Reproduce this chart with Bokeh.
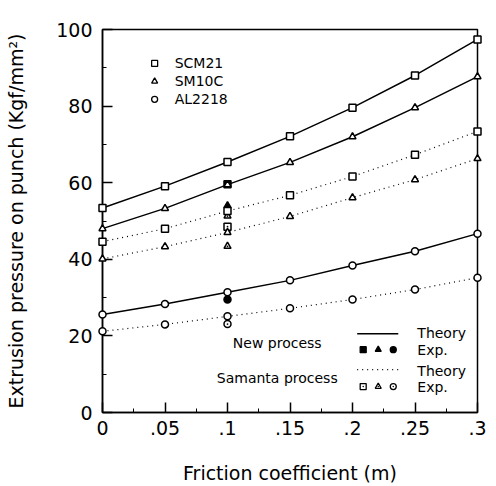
from bokeh.plotting import figure
from bokeh.models import FixedTicker, Range1d
from bokeh.core.properties import value
from bokeh.embed import file_html
from bokeh.resources import INLINE

# ---- data ----
friction = [0, 0.05, 0.1, 0.15, 0.2, 0.25, 0.3]
scm21_new = [53.4, 59.1, 65.4, 72.1, 79.6, 88.0, 97.4]
sm10c_new = [48.0, 53.3, 59.5, 65.3, 72.0, 79.6, 87.7]
al2218_new = [25.6, 28.3, 31.4, 34.5, 38.4, 42.1, 46.7]
scm21_sam = [44.6, 48.0, 52.6, 56.7, 61.6, 67.3, 73.4]
sm10c_sam = [40.1, 43.3, 47.0, 51.2, 56.1, 60.8, 66.3]
al2218_sam = [21.2, 23.0, 25.1, 27.2, 29.5, 32.1, 35.2]

exp_x = [0.1]
scm21_exp_new = [59.6]
sm10c_exp_new = [54.0]
al2218_exp_new = [29.5]
scm21_exp_sam = [48.5]
sm10c_exp_sam = [43.4, 51.3]
al2218_exp_sam = [23.1]

x_ticks = [0, 0.05, 0.1, 0.15, 0.2, 0.25, 0.3]
x_tick_labels = ["0", ".05", ".1", ".15", ".2", ".25", ".3"]
y_ticks = [0, 20, 40, 60, 80, 100]

FONT = "DejaVu Sans"

p = figure(width=488, height=486, output_backend="svg", toolbar_location=None,
           x_range=Range1d(0, 0.3), y_range=Range1d(0, 100))
p.min_border_left = 102
p.min_border_right = 11
p.min_border_top = 29
p.min_border_bottom = 73
p.grid.visible = False
p.outline_line_color = "black"
p.outline_line_width = 1.5
p.background_fill_color = "white"
p.border_fill_color = "white"

for ax in (p.xaxis[0], p.yaxis[0]):
    ax.axis_line_width = 1.5
    ax.major_tick_in = 10
    ax.major_tick_out = 0
    ax.minor_tick_in = 4
    ax.minor_tick_out = 0
    ax.major_tick_line_width = 1.5
    ax.major_label_text_font = FONT
    ax.major_label_text_font_size = "19px"
    ax.major_label_text_color = "black"
    ax.axis_label_text_font = FONT
    ax.axis_label_text_font_size = "19px"
    ax.axis_label_text_font_style = "normal"
    ax.axis_label_text_color = "black"

p.xaxis.ticker = FixedTicker(ticks=x_ticks, minor_ticks=[0.025, 0.075, 0.125, 0.175, 0.225, 0.275])
p.xaxis.major_label_overrides = {t: l for t, l in zip(x_ticks, x_tick_labels)}
p.yaxis.ticker = FixedTicker(ticks=y_ticks, minor_ticks=[10, 30, 50, 70, 90])
p.xaxis.axis_label = "Friction coefficient (m)"
p.yaxis.axis_label = "Extrusion pressure on punch (Kgf/mm²)"
p.xaxis.major_label_standoff = 8
p.yaxis.major_label_standoff = 10
p.xaxis.axis_label_standoff = 24
p.yaxis.axis_label_standoff = 26

# theory lines
for ys in (scm21_new, sm10c_new, al2218_new):
    p.line(friction, ys, line_color="black", line_width=1.5)
for ys in (scm21_sam, sm10c_sam, al2218_sam):
    p.line(friction, ys, line_color="black", line_width=1.2, line_dash="1 4")

MS = 7
for ys, m in ((scm21_new, "square"), (sm10c_new, "triangle"), (al2218_new, "circle"),
              (scm21_sam, "square"), (sm10c_sam, "triangle"), (al2218_sam, "circle")):
    r = p.scatter(friction, ys, marker=m, size=MS, fill_color="white", line_color="black", line_width=1.5)
    r.level = "overlay"

# experiments
for ys, m in ((scm21_exp_new, "square"), (sm10c_exp_new, "triangle"), (al2218_exp_new, "circle")):
    p.scatter(exp_x * len(ys), ys, marker=m, size=MS, fill_color="black", line_color="black", line_width=1.5)
for ys, m in ((scm21_exp_sam, "square_dot"), (sm10c_exp_sam, "triangle_dot"), (al2218_exp_sam, "circle_dot")):
    p.scatter(exp_x * len(ys), ys, marker=m, size=MS, fill_color="white", line_color="black", line_width=1.5)

# ---- annotations (positions in data units) ----
def X(px):
    return (px - 103) / 1246.7

def Y(py):
    return (413 - py) / 3.84

tf = value(FONT)
# top-left legend
for py, m, t in ((63, "square", "SCM21"), (81, "triangle", "SM10C"), (99, "circle", "AL2218")):
    p.scatter([X(155)], [Y(py)], marker=m, size=6, fill_color="white", line_color="black", line_width=1.3)
    p.text([X(175)], [Y(py)], text=[t], text_font=tf, text_font_size="14px",
           text_baseline="middle", text_align="left", text_color="black")

# bottom-right legend
p.text([X(233)], [Y(343)], text=["New process"], text_font=tf, text_font_size="14px",
       text_baseline="middle", text_align="left", text_color="black")
p.text([X(217)], [Y(378)], text=["Samanta process"], text_font=tf, text_font_size="14px",
       text_baseline="middle", text_align="left", text_color="black")
p.line([X(357), X(398)], [Y(334), Y(334)], line_color="black", line_width=1.5)
p.line([X(357), X(398)], [Y(370), Y(370)], line_color="black", line_width=1.2, line_dash="1 4")
for py, t in ((333, "Theory"), (350, "Exp."), (371, "Theory"), (387, "Exp.")):
    p.text([X(417)], [Y(py)], text=[t], text_font=tf, text_font_size="14px",
           text_baseline="middle", text_align="left", text_color="black")
for px, m in ((363, "square"), (378, "triangle"), (393, "circle")):
    p.scatter([X(px)], [Y(350)], marker=m, size=6, fill_color="black", line_color="black", line_width=1.3)
for px, m in ((363, "square_dot"), (378, "triangle_dot"), (393, "circle_dot")):
    p.scatter([X(px)], [Y(387)], marker=m, size=6, fill_color="white", line_color="black", line_width=1.3)

open("out.html", "w").write(file_html(p, INLINE))
